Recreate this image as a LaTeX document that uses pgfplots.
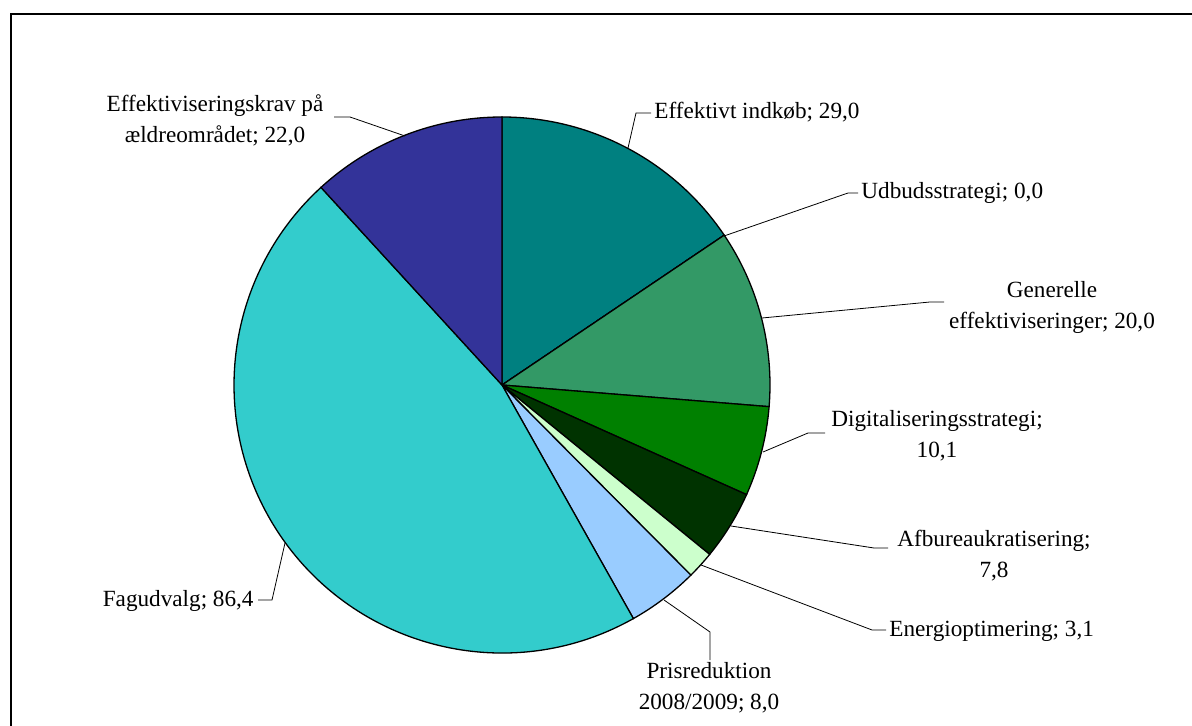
\documentclass[border=0pt]{standalone}
\usepackage{pgfplots}
\pgfplotsset{compat=1.18}
\usepackage{fontspec}
\setmainfont{Liberation Serif}

\definecolor{cA}{HTML}{008080}
\definecolor{cB}{HTML}{FF6600}
\definecolor{cC}{HTML}{339966}
\definecolor{cD}{HTML}{008000}
\definecolor{cE}{HTML}{003300}
\definecolor{cF}{HTML}{CCFFCC}
\definecolor{cG}{HTML}{99CCFF}
\definecolor{cH}{HTML}{33CCCC}
\definecolor{cI}{HTML}{333399}

% values (mio. kr.), clockwise from 12 o'clock
\def\piedata{29.0/cA,0.0/cB,20.0/cC,10.1/cD,7.8/cE,3.1/cF,8.0/cG,86.4/cH,22.0/cI}

\begin{document}
\begin{tikzpicture}
\fontsize{11.6}{15.5}\selectfont
% total of all slices
\gdef\total{0}
\foreach \v/\c in \piedata {\pgfmathparse{\total+\v}\xdef\total{\pgfmathresult}}

\begin{axis}[
    x=0.5pt, y=0.5pt,
    xmin=0, xmax=1192, ymin=0, ymax=726,
    y dir=reverse,
    hide axis, clip=false,
    scale only axis,
]
% frame
\draw[line width=1pt] (axis cs:11,726) -- (axis cs:11,14) -- (axis cs:1192,14);

% pie slices
\gdef\cum{0}
\foreach \v/\c in \piedata {
    \pgfmathsetmacro\a{90-\cum/\total*360}
    \pgfmathparse{\cum+\v}\xdef\cum{\pgfmathresult}
    \pgfmathsetmacro\b{90-\cum/\total*360}
    \edef\temp{\noexpand\filldraw[fill=\c, draw=black, line width=0.65pt]
        (axis cs:502,385) -- ++(\a:134pt) arc[start angle=\a, end angle=\b, radius=134pt] -- cycle;}
    \temp
}

% leader lines
\begin{scope}[line width=0.4pt]
\draw (axis cs:628,148) -- (axis cs:636,113) -- (axis cs:651,113);
\draw (axis cs:724,236) -- (axis cs:848,193) -- (axis cs:858,193);
\draw (axis cs:762,318) -- (axis cs:930,302) -- (axis cs:944,302);
\draw (axis cs:763,452) -- (axis cs:808,433) -- (axis cs:825,433);
\draw (axis cs:731,526) -- (axis cs:874,548) -- (axis cs:888,548);
\draw (axis cs:701,565) -- (axis cs:872,630) -- (axis cs:886,630);
\draw (axis cs:664,600) -- (axis cs:710,632) -- (axis cs:710,660);
\draw (axis cs:285,543) -- (axis cs:272,600) -- (axis cs:258,600);
\draw (axis cs:405,136) -- (axis cs:350,117) -- (axis cs:334,117);
\end{scope}

% labels
\node[anchor=west, inner sep=1pt] at (axis cs:652,112) {Effektivt indkøb; 29,0};
\node[anchor=west, inner sep=1pt] at (axis cs:859,193) {Udbudsstrategi; 0,0};
\node[align=center] at (axis cs:1052,307) {Generelle\\effektiviseringer; 20,0};
\node[align=center] at (axis cs:937,436) {Digitaliseringsstrategi;\\10,1};
\node[align=center] at (axis cs:994,556) {Afbureaukratisering;\\7,8};
\node[anchor=west, inner sep=1pt] at (axis cs:887,631) {Energioptimering; 3,1};
\node[align=center] at (axis cs:709,688) {Prisreduktion\\2008/2009; 8,0};
\node[anchor=east, inner sep=1pt] at (axis cs:256,601) {Fagudvalg; 86,4};
\node[align=center] at (axis cs:215,120) {Effektiviseringskrav på\\ældreområdet; 22,0};
\end{axis}
\pgfresetboundingbox
\path (0,0) rectangle (596pt,363pt);
\end{tikzpicture}
\end{document}
